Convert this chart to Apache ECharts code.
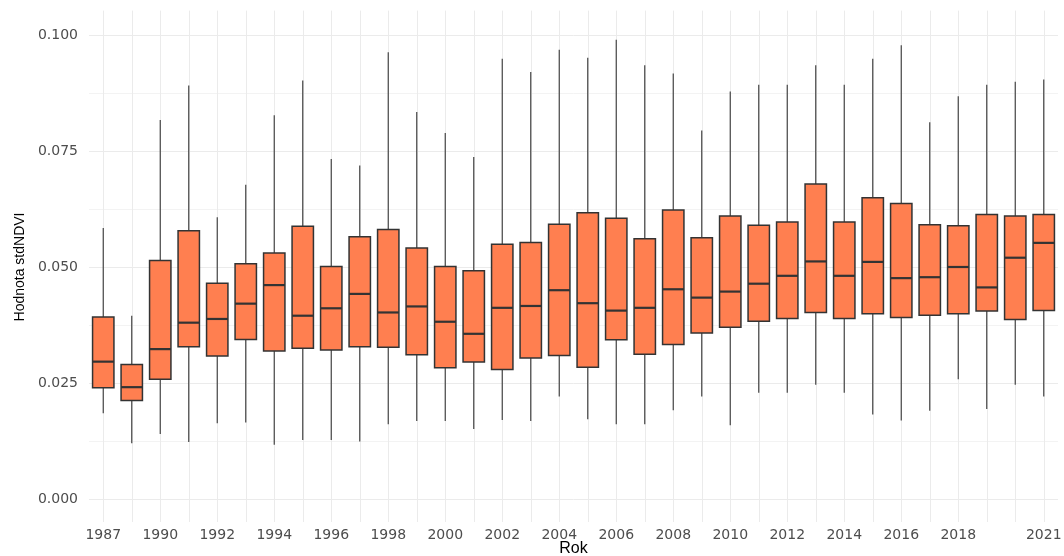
<!DOCTYPE html>
<html>
<head>
<meta charset="utf-8">
<script src="https://cdn.jsdelivr.net/npm/echarts@6/dist/echarts.min.js"></script>
<style>
  html, body { margin: 0; padding: 0; background: #fff; }
  #chart { width: 1064px; height: 556px; }
</style>
</head>
<body>
<div id="chart"></div>
<script>
// years on the x axis (one year between 1987 and 1990 is absent)
var years = ["1987", "1988", "1990", "1991", "1992", "1993", "1994", "1995", "1996", "1997",
  "1998", "1999", "2000", "2001", "2002", "2003", "2004", "2005", "2006", "2007",
  "2008", "2009", "2010", "2011", "2012", "2013", "2014", "2015", "2016", "2017",
  "2018", "2019", "2020", "2021"];

// box statistics
var whiskerLow = [0.0185, 0.0120, 0.0140, 0.0123, 0.0163, 0.0165, 0.0117, 0.0127, 0.0127, 0.0124,
  0.0161, 0.0168, 0.0168, 0.0151, 0.0170, 0.0168, 0.0221, 0.0172, 0.0161, 0.0161,
  0.0191, 0.0221, 0.0159, 0.0229, 0.0229, 0.0246, 0.0229, 0.0182, 0.0169, 0.0190,
  0.0258, 0.0194, 0.0246, 0.0221];
var q1 = [0.0240, 0.0212, 0.0258, 0.0328, 0.0308, 0.0344, 0.0319, 0.0325, 0.0321, 0.0328,
  0.0327, 0.0311, 0.0283, 0.0295, 0.0279, 0.0304, 0.0309, 0.0284, 0.0343, 0.0312,
  0.0333, 0.0358, 0.0370, 0.0383, 0.0389, 0.0402, 0.0389, 0.0399, 0.0391, 0.0396,
  0.0399, 0.0405, 0.0387, 0.0406];
var median = [0.0296, 0.0241, 0.0323, 0.0380, 0.0388, 0.0421, 0.0461, 0.0395, 0.0411, 0.0442,
  0.0402, 0.0415, 0.0382, 0.0356, 0.0412, 0.0416, 0.0450, 0.0422, 0.0406, 0.0412,
  0.0452, 0.0434, 0.0447, 0.0464, 0.0481, 0.0512, 0.0481, 0.0511, 0.0476, 0.0478,
  0.0500, 0.0456, 0.0520, 0.0552];
var q3 = [0.0392, 0.0290, 0.0514, 0.0578, 0.0465, 0.0507, 0.0530, 0.0588, 0.0501, 0.0565,
  0.0581, 0.0541, 0.0501, 0.0492, 0.0549, 0.0553, 0.0592, 0.0617, 0.0605, 0.0561,
  0.0623, 0.0563, 0.0610, 0.0590, 0.0597, 0.0679, 0.0597, 0.0649, 0.0637, 0.0591,
  0.0589, 0.0613, 0.0610, 0.0613];
var whiskerHigh = [0.0584, 0.0395, 0.0817, 0.0891, 0.0607, 0.0677, 0.0827, 0.0902, 0.0733, 0.0719,
  0.0963, 0.0834, 0.0789, 0.0737, 0.0949, 0.0920, 0.0968, 0.0951, 0.0990, 0.0935,
  0.0917, 0.0794, 0.0878, 0.0893, 0.0893, 0.0935, 0.0893, 0.0949, 0.0978, 0.0812,
  0.0868, 0.0893, 0.0899, 0.0904];

var yTicks = [0, 0.1];

var chart = echarts.init(document.getElementById("chart"), null, { renderer: "canvas" });

var boxData = years.map(function (y, i) {
  return [i, whiskerLow[i], q1[i], median[i], q3[i], whiskerHigh[i]];
});

var option = {
  animation: false,
  backgroundColor: "#fff",
  grid: [
    // full panel (the x gridlines run past 0 and 0.1)
    { left: 89, right: 6, top: 10.6, bottom: 34, outerBoundsMode: "none" },
    // 0 .. 0.1 part for the y labels and horizontal gridlines
    { left: 89, right: 6, top: 35, bottom: 57, outerBoundsMode: "none" }
  ],
  xAxis: [
    {
      type: "category",
      gridIndex: 0,
      data: years,
      axisLine: { show: false },
      axisTick: { show: false },
      axisLabel: {
        interval: function (index) {
          return (index % 2 === 0 && index <= 30) || index === 33;
        },
        margin: 6,
        color: "#4d4d4d",
        fontFamily: "DejaVu Sans",
        fontSize: 14
      },
      splitLine: {
        show: true,
        interval: 0,
        alignWithLabel: true,
        lineStyle: { color: "#ebebeb", width: 1 }
      },
      name: "Rok",
      nameLocation: "middle",
      nameGap: 19,
      nameMoveOverlap: false,
      nameTextStyle: { color: "#000", fontFamily: "Liberation Sans", fontSize: 16 }
    },
    {
      type: "category",
      gridIndex: 1,
      data: years,
      show: false
    }
  ],
  yAxis: [
    {
      type: "value",
      gridIndex: 0,
      min: -0.00496,
      max: 0.10526,
      show: false,
      splitLine: { show: false }
    },
    {
      type: "value",
      gridIndex: 1,
      min: yTicks[0],
      max: yTicks[1],
      interval: 0.025,
      axisLine: { show: false },
      axisTick: { show: false },
      axisLabel: {
        margin: 11,
        color: "#4d4d4d",
        fontFamily: "DejaVu Sans",
        fontSize: 14,
        formatter: function (v) { return v.toFixed(3); }
      },
      splitLine: { lineStyle: { color: "#ebebeb", width: 1 } },
      minorTick: { show: false, splitNumber: 2 },
      minorSplitLine: { show: true, lineStyle: { color: "#f3f3f3", width: 1 } },
      name: "Hodnota stdNDVI",
      nameLocation: "middle",
      nameRotate: 90,
      nameGap: 62,
      nameMoveOverlap: false,
      nameTextStyle: { color: "#000", fontFamily: "Liberation Sans", fontSize: 14 }
    }
  ],
  series: [
    {
      type: "custom",
      xAxisIndex: 0,
      yAxisIndex: 0,
      data: boxData,
      encode: { x: 0, y: [1, 2, 3, 4, 5] },
      renderItem: function (params, api) {
        var x = api.value(0);
        var lo = api.coord([x, api.value(1)]);
        var b1 = api.coord([x, api.value(2)]);
        var md = api.coord([x, api.value(3)]);
        var b3 = api.coord([x, api.value(4)]);
        var hi = api.coord([x, api.value(5)]);
        var w = api.size([1, 0])[0] * 0.75;
        return {
          type: "group",
          children: [
            {
              type: "line",
              shape: { x1: lo[0], y1: lo[1], x2: hi[0], y2: hi[1] },
              style: { stroke: "#444", lineWidth: 1.2 }
            },
            {
              type: "rect",
              shape: { x: b3[0] - w / 2, y: b3[1], width: w, height: b1[1] - b3[1] },
              style: { fill: "#ff7f50", stroke: "#333", lineWidth: 1.5 }
            },
            {
              type: "line",
              shape: { x1: md[0] - w / 2, y1: md[1], x2: md[0] + w / 2, y2: md[1] },
              style: { stroke: "#333", lineWidth: 2.2 }
            }
          ]
        };
      }
    }
  ]
};

option && chart.setOption(option);
</script>
</body>
</html>
